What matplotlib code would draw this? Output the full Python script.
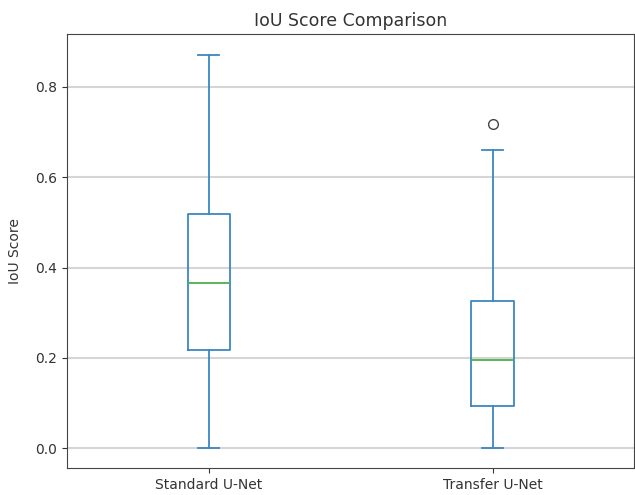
import matplotlib.pyplot as plt

# summary statistics of IoU scores per model
models = ["Standard U-Net", "Transfer U-Net"]
whislo = [0.0, 0.0]
q1 = [0.217, 0.093]
med = [0.366, 0.195]
q3 = [0.519, 0.326]
whishi = [0.871, 0.660]
fliers = [[], [0.718]]

stats = []
for i, name in enumerate(models):
    stats.append(dict(label=name, whislo=whislo[i], q1=q1[i], med=med[i],
                      q3=q3[i], whishi=whishi[i], fliers=fliers[i]))

fig = plt.figure(figsize=(6.35, 4.95), dpi=100)
ax = fig.add_axes([0.1055, 0.0545, 0.8935, 0.8765])

blue = "#3b87c0"
ax.bxp(stats, widths=0.15,
       boxprops=dict(color=blue, linewidth=1.3),
       whiskerprops=dict(color=blue, linewidth=1.3),
       capprops=dict(color=blue, linewidth=1.3),
       medianprops=dict(color="#4caf50", linewidth=1.3),
       flierprops=dict(marker="o", markerfacecolor="none",
                       markeredgecolor="#444444", markersize=7))

ax.set_xlim(0.5, 2.5)
ax.set_ylim(-0.044, 0.917)
ax.set_yticks([0.0, 0.2, 0.4, 0.6, 0.8])
ax.yaxis.grid(True, color="#d5d5d5", linewidth=1.5)
ax.set_axisbelow(True)
ax.tick_params(labelsize=10, colors="#333333")
for s in ax.spines.values():
    s.set_color("#444444")
ax.set_title("IoU Score Comparison", fontsize=12.5, color="#333333")
ax.set_ylabel("IoU Score", fontsize=10, color="#333333")
ax.yaxis.set_label_coords(-0.079, 0.5)

fig.savefig("out.png")
